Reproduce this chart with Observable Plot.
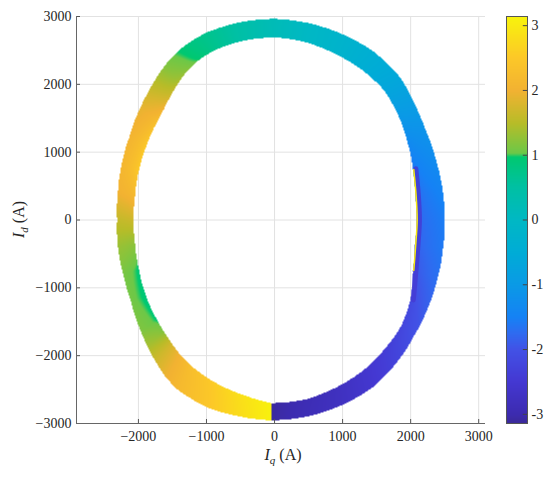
<!DOCTYPE html>
<html><head><meta charset="utf-8">
<script src="https://cdn.jsdelivr.net/npm/d3@7"></script>
<script src="https://cdn.jsdelivr.net/npm/@observablehq/plot@0.6"></script>
<style>
html,body{margin:0;padding:0;background:#fff;}
#wrap{position:relative;width:550px;height:479px;overflow:hidden;}
#wrap svg{position:absolute;top:0;}
#wrap svg text{font-family:'Liberation Serif','Times New Roman',serif !important;}
</style></head><body><div id="wrap"></div>
<script>
// Angle (deg, measured from +Iq axis) at which the ring was read
const angles = [-91,-80,-70,-60,-50,-40,-30,-20,-10,0,10,20,30,35,40,45,50,60,70,80,90,100,110,115,120,125,130,135,140,150,160,170,180,190,200,210,220,225,230,235,240,250,260,269];
// Outer and inner radius of the band (A)
const rOuter = [2953,2935,2903,2860,2770,2670,2600,2545,2512,2500,2508,2530,2580,2625,2680,2750,2810,2880,2915,2945,2965,2958,2938,2905,2862,2795,2715,2640,2575,2460,2390,2337,2313,2335,2362,2430,2560,2640,2720,2810,2875,2935,2942,2953];
const rInner = [2700,2683,2630,2575,2500,2430,2310,2165,2095,2084,2100,2165,2260,2320,2380,2440,2500,2560,2605,2660,2692,2682,2650,2608,2548,2462,2378,2302,2250,2175,2120,2080,2069,2080,2120,2190,2265,2310,2360,2420,2470,2550,2620,2700];
// Colour value (phase, rad) on the outer and inner edge of the band
const phaseOuter = [-3.1,-2.9,-2.75,-2.55,-2.3,-2.05,-1.85,-1.7,-1.6,-1.55,-1.45,-1.3,-1.15,-1.05,-0.9,-0.75,-0.6,-0.4,-0.2,0.0,0.2,0.45,0.7,0.8,0.98,1.15,1.45,1.7,1.9,2.05,2.1,2.0,1.6,1.3,1.1,1.08,1.15,1.4,1.7,1.95,2.15,2.45,2.8,3.1];
const phaseInner = [-3.1,-2.95,-2.8,-2.6,-2.45,-2.3,-2.25,-2.1,-1.95,-1.9,-1.85,-1.7,-1.4,-1.2,-1.05,-0.85,-0.7,-0.45,-0.2,0.0,0.2,0.45,0.75,1.0,1.25,1.5,1.75,2.1,2.35,2.6,2.6,2.2,1.7,1.2,0.9,0.85,0.9,1.1,1.7,2.05,2.3,2.6,2.9,3.1];
// thin purple and yellow strips along the inner right edge
const stripRange = [-35, 20];
const stripPhase = -2.45;
const fringeRange = [-20, 20];
const fringePhase = 3.0;

const xTicks = [-2000,-1000,0,1000,2000,3000];
const yTicks = [-3000,-2000,-1000,0,1000,2000,3000];
const cbTicks = [-3,-2,-1,0,1,2,3];
const cbStops = [-Math.PI,-3.0,-2.5,-2.0,-1.75,-1.5,-1.0,-0.5,0,0.5,0.97,1.03,1.5,2.0,2.5,Math.PI];
const cbColors = ["#3b2a98","#3c2bb0","#4438d2","#4252e6","#2f6bf0","#1582f5","#0a9ae6","#00acd6","#00b8c4","#00c0a4","#00c870","#6cc848","#b8bc28","#f2b232","#fcc828","#f8f40c"];
const xDomain = [-2910, 3100];
const yDomain = [-3000, 3000];

const W = 550, H = 479, mL = 76, mR = 65, mT = 16, mB = 56;
const pw = W - mL - mR, ph = H - mT - mB;
const font = "'Liberation Serif','Times New Roman',serif";
const colorOpt = {type: "linear", domain: cbStops, range: cbColors, clamp: true};
const fmt = d => d < 0 ? "\u2212" + (-d) : String(d);

const N = angles.length;
function ringValue(x, y) {
  const r = Math.hypot(x, y);
  let a = Math.atan2(y, x) * 180 / Math.PI;
  if (a < angles[0]) a += 360;
  let i = d3.bisectRight(angles, a) - 1;
  i = Math.max(0, Math.min(N - 2, i));
  const t = (a - angles[i]) / (angles[i + 1] - angles[i]);
  const ro = rOuter[i] + t * (rOuter[i + 1] - rOuter[i]);
  const ri = rInner[i] + t * (rInner[i + 1] - rInner[i]);
  if (r < ri || r > ro) return NaN;
  const co = phaseOuter[i] + t * (phaseOuter[i + 1] - phaseOuter[i]);
  const ci = phaseInner[i] + t * (phaseInner[i + 1] - phaseInner[i]);
  const u = Math.sqrt((r - ri) / (ro - ri));
  return ci + u * (co - ci);
}

function edgePoints(range, offset, v) {
  return angles.map((a, i) => ({
    x: (rInner[i] + offset) * Math.cos(a * Math.PI / 180),
    y: (rInner[i] + offset) * Math.sin(a * Math.PI / 180),
    v, a
  })).filter(d => d.a >= range[0] && d.a <= range[1]);
}
const strip = edgePoints(stripRange, 45, stripPhase);
const fringe = edgePoints(fringeRange, 12, fringePhase);

const main = Plot.plot({
  width: W, height: H,
  marginLeft: mL, marginRight: mR, marginTop: mT, marginBottom: mB,
  style: {fontFamily: font, fontSize: "14px", color: "#262626", background: "transparent", overflow: "visible"},
  x: {domain: xDomain},
  y: {domain: yDomain},
  color: colorOpt,
  marks: [
    Plot.gridX({ticks: xTicks, stroke: "#e2e2e2", strokeOpacity: 1}),
    Plot.gridY({ticks: yTicks, stroke: "#e2e2e2", strokeOpacity: 1}),
    Plot.raster({fill: ringValue, x1: xDomain[0], x2: xDomain[1], y1: yDomain[0], y2: yDomain[1], pixelSize: 1}),
    Plot.line(strip, {x: "x", y: "y", stroke: "v", strokeWidth: 5, strokeOpacity: 0.85, curve: "catmull-rom"}),
    Plot.line(fringe, {x: "x", y: "y", stroke: "v", strokeWidth: 1.5, curve: "catmull-rom"}),
    Plot.ruleX(xTicks, {insetTop: ph - 4, stroke: "#555"}),
    Plot.ruleY(yTicks, {insetRight: pw - 4, stroke: "#555"}),
    Plot.ruleX([xDomain[0]], {stroke: "#666"}),
    Plot.ruleY([yDomain[0]], {stroke: "#666"}),
    Plot.axisX({ticks: xTicks, tickSize: 0, tickPadding: 8, label: null, fontSize: 14, fontFamily: font, tickFormat: fmt}),
    Plot.axisY({ticks: yTicks, tickSize: 0, tickPadding: 5, label: null, fontSize: 14, fontFamily: font, tickFormat: fmt})
  ]
});

const svg = d3.select(main);
const yl = svg.append("text")
  .attr("transform", `translate(24,${mT + ph / 2}) rotate(-90)`)
  .attr("text-anchor", "middle")
  .attr("fill", "#262626")
  .style("font-family", font).style("font-size", "16px");
yl.append("tspan").attr("font-style", "italic").text("I");
yl.append("tspan").attr("font-style", "italic").attr("font-size", "11px").attr("dy", 4).text("d");
yl.append("tspan").attr("dy", -4).text(" (A)");

const xl = svg.append("text")
  .attr("x", 283).attr("y", 460)
  .attr("text-anchor", "middle")
  .attr("fill", "#262626")
  .style("font-family", font).style("font-size", "16px");
xl.append("tspan").attr("font-style", "italic").text("I");
xl.append("tspan").attr("font-style", "italic").attr("font-size", "11px").attr("dy", 4).text("q");
xl.append("tspan").attr("dy", -4).text(" (A)");

const cb = Plot.plot({
  width: 60, height: H,
  marginLeft: 16, marginRight: 23, marginTop: mT, marginBottom: mB,
  style: {fontFamily: font, fontSize: "14px", color: "#262626", background: "transparent", overflow: "visible"},
  x: {domain: [0, 1], axis: null},
  y: {domain: [-Math.PI, Math.PI], axis: null},
  color: colorOpt,
  marks: [
    Plot.raster({fill: (x, y) => y, x1: 0, x2: 1, y1: -Math.PI, y2: Math.PI, pixelSize: 1}),
    Plot.ruleY(cbTicks, {x1: 0.8, x2: 1, stroke: "#444"}),
    Plot.frame({stroke: "#555"}),
    Plot.axisY({ticks: cbTicks, anchor: "right", tickSize: 0, tickPadding: 4, tickFormat: d => String(d), label: null, fontSize: 14, fontFamily: font})
  ]
});

const wrap = document.getElementById("wrap");
main.style.left = "0px";
cb.style.left = "490px";
wrap.appendChild(main);
wrap.appendChild(cb);
</script>
</body></html>
